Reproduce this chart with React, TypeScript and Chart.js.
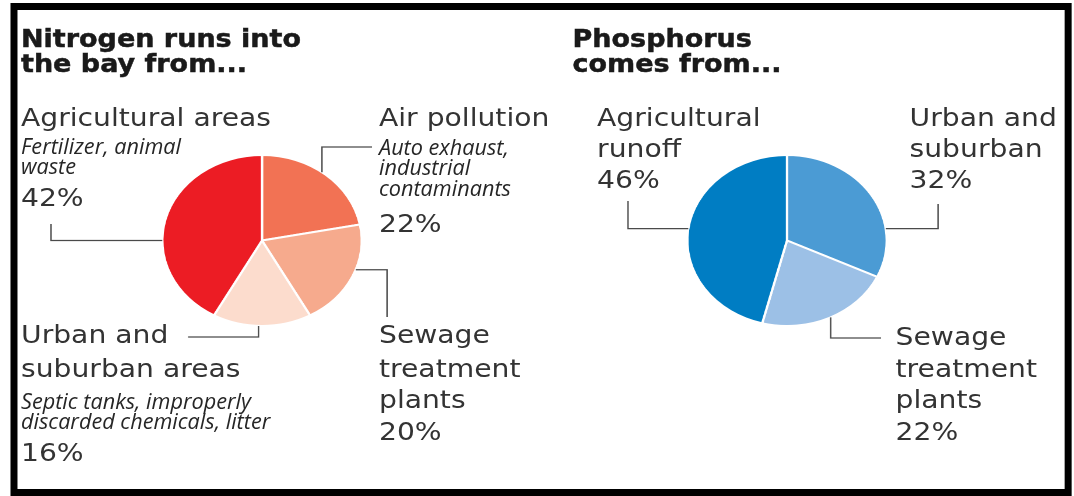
import React, { useEffect, useMemo, useRef } from "react";
import { Chart, registerables } from "chart.js";

Chart.register(...registerables);

// ---------------- data ----------------
const nitrogenTitle = ["Nitrogen runs into", "the bay from..."];
const phosphorusTitle = ["Phosphorus", "comes from..."];

// slice order: clockwise from 12 o'clock
const nitrogenNames = [["Air pollution"], ["Sewage", "treatment", "plants"], ["Urban and", "suburban areas"], ["Agricultural areas"]];
const nitrogenNotes = [["Auto exhaust,", "industrial", "contaminants"], [], ["Septic tanks, improperly", "discarded chemicals, litter"], ["Fertilizer, animal", "waste"]];
const nitrogenValues = [22, 20, 16, 42];
const nitrogenColors = ["#F27254", "#F6AA8D", "#FCDCCD", "#EC1C24"];

const phosphorusNames = [["Urban and", "suburban"], ["Sewage", "treatment", "plants"], ["Agricultural", "runoff"]];
const phosphorusNotes = [[], [], []];
const phosphorusValues = [32, 22, 46];
const phosphorusColors = ["#4B9BD4", "#9CC0E6", "#007DC3"];

// ---------------- layout (screen px) ----------------
const W = 1074;
const H = 496;
const S = 1.1661; // horizontal stretch of the whole graphic
const W0 = W / S;
const HALF = 86.5;

type Block = { x: number; names: number[]; notes: number[]; pct: number };
type Leader = { angle: number; first: "h" | "v"; x: number; y: number };

const nitrogenCenter = [262, 240.5];
const phosphorusCenter = [787, 240.5];

const nitrogenBlocks: Block[] = [
  { x: 379, names: [126], notes: [156, 176, 197], pct: 232 },
  { x: 379, names: [343, 377, 408], notes: [], pct: 440 },
  { x: 21, names: [343, 377], notes: [410, 430], pct: 461 },
  { x: 21, names: [126], notes: [155, 175], pct: 206 },
];
const phosphorusBlocks: Block[] = [
  { x: 910, names: [126, 157], notes: [], pct: 188 },
  { x: 895, names: [345, 377, 408], notes: [], pct: 440 },
  { x: 597, names: [126, 157], notes: [], pct: 188 },
];

const nitrogenLeaders: Leader[] = [
  { angle: 37, first: "v", y: 147, x: 372 },
  { angle: 110, first: "h", x: 387, y: 317 },
  { angle: 182, first: "v", y: 337, x: 188 },
  { angle: 270, first: "h", x: 51, y: 224 },
];
const phosphorusLeaders: Leader[] = [
  { angle: 82, first: "h", x: 938, y: 204 },
  { angle: 154, first: "v", y: 338, x: 881 },
  { angle: 278, first: "h", x: 628, y: 201 },
];

const FONTS = {
  title: { family: '"DejaVu Sans", sans-serif', weight: 700, style: "normal", size: 25, asc: 0.846, color: "#1a1a1a", ref: "Nitrogen runs into", refW: 280, stroke: 0.5 },
  label: { family: '"DejaVu Sans", sans-serif', weight: 400, style: "normal", size: 24, asc: 0.846, color: "#333333", ref: "Agricultural areas", refW: 250, stroke: 0 },
  note: { family: '"Open Sans", sans-serif', weight: 400, style: "italic", size: 21, asc: 0.888, color: "#262626", ref: "Fertilizer, animal", refW: 160, stroke: 0 },
};
type FontKey = keyof typeof FONTS;

function useFactors() {
  return useMemo(() => {
    const c = document.createElement("canvas").getContext("2d")!;
    const out: Record<string, number> = {};
    (Object.keys(FONTS) as FontKey[]).forEach((k) => {
      const f = FONTS[k];
      c.font = `${f.style} ${f.weight} ${f.size}px ${f.family}`;
      const w = c.measureText(f.ref).width || 1;
      out[k] = f.refW / S / w;
    });
    return out;
  }, []);
}

function TextLine({ text, x, base, kind, k }: { text: string; x: number; base: number; kind: FontKey; k: number }) {
  const f = FONTS[kind];
  return (
    <div
      style={{
        position: "absolute",
        left: x / S,
        top: base - f.asc * f.size,
        fontFamily: f.family,
        fontWeight: f.weight as any,
        fontStyle: f.style as any,
        fontSize: f.size,
        lineHeight: `${f.size}px`,
        color: f.color,
        whiteSpace: "nowrap",
        transform: `scaleX(${k})`,
        transformOrigin: "0 0",
        WebkitTextStroke: f.stroke ? `${f.stroke}px ${f.color}` : undefined,
      }}
    >
      {text}
    </div>
  );
}

function makeLeaderPlugin(leaders: Leader[]) {
  return {
    id: "leaders",
    afterDatasetsDraw(chart: any) {
      const meta = chart.getDatasetMeta(0);
      const ctx = chart.ctx as CanvasRenderingContext2D;
      ctx.save();
      ctx.strokeStyle = "#4a4a4a";
      ctx.lineWidth = 1.2;
      leaders.forEach((sp, i) => {
        const arc = meta.data[i];
        if (!arc) return;
        const { x, y, outerRadius } = arc.getProps(["x", "y", "outerRadius"], true);
        const a = ((sp.angle - 90) * Math.PI) / 180;
        const px = x + outerRadius * Math.cos(a);
        const py = y + outerRadius * Math.sin(a);
        ctx.beginPath();
        ctx.moveTo(px, py);
        if (sp.first === "h") {
          ctx.lineTo(sp.x / S, py);
          ctx.lineTo(sp.x / S, sp.y);
        } else {
          ctx.lineTo(px, sp.y);
          ctx.lineTo(sp.x / S, sp.y);
        }
        ctx.stroke();
      });
      ctx.restore();
    },
  };
}

function PieChart({ values, colors, labels, center, leaders }: { values: number[]; colors: string[]; labels: string[]; center: number[]; leaders: Leader[] }) {
  const ref = useRef<HTMLCanvasElement>(null);
  useEffect(() => {
    const cx = center[0] / S;
    const cy = center[1];
    const chart = new Chart(ref.current!, {
      type: "pie",
      data: {
        labels,
        datasets: [{ data: values, backgroundColor: colors, borderColor: "#ffffff", borderWidth: 2 }],
      },
      options: {
        responsive: true,
        maintainAspectRatio: false,
        animation: false,
        devicePixelRatio: 2,
        events: [],
        layout: { padding: { left: cx - HALF, right: W0 - (cx + HALF), top: cy - HALF, bottom: H - (cy + HALF) } },
        plugins: { legend: { display: false }, tooltip: { enabled: false } },
      },
      plugins: [makeLeaderPlugin(leaders) as any],
    });
    return () => chart.destroy();
  }, []);
  return (
    <div style={{ position: "absolute", left: 0, top: 0, width: W0, height: H }}>
      <canvas ref={ref} />
    </div>
  );
}

function Labels({ names, notes, values, blocks, k }: { names: string[][]; notes: string[][]; values: number[]; blocks: Block[]; k: Record<string, number> }) {
  const out: React.ReactNode[] = [];
  blocks.forEach((b, i) => {
    names[i].forEach((t, j) => out.push(<TextLine key={`n${i}-${j}`} text={t} x={b.x} base={b.names[j]} kind="label" k={k.label} />));
    notes[i].forEach((t, j) => out.push(<TextLine key={`o${i}-${j}`} text={t} x={b.x} base={b.notes[j]} kind="note" k={k.note} />));
    out.push(<TextLine key={`p${i}`} text={`${values[i]}%`} x={b.x} base={b.pct} kind="label" k={k.label} />);
  });
  return <>{out}</>;
}

export default function App() {
  const k = useFactors();
  return (
    <div style={{ position: "fixed", left: 0, top: 0, width: W, height: H, overflow: "hidden", background: "#ffffff" }}>
      <div style={{ position: "absolute", left: 0, top: 0, width: W0, height: H, transform: `scaleX(${S})`, transformOrigin: "0 0" }}>
        <div
          style={{
            position: "absolute",
            left: 11 / S,
            top: 3,
            width: (1072 - 11) / S,
            height: H - 3,
            boxSizing: "border-box",
            borderStyle: "solid",
            borderColor: "#000",
            borderTopWidth: 7,
            borderBottomWidth: 7,
            borderLeftWidth: 7 / S,
            borderRightWidth: 8 / S,
          }}
        />
        <PieChart values={nitrogenValues} colors={nitrogenColors} labels={nitrogenNames.map((n) => n.join(" "))} center={nitrogenCenter} leaders={nitrogenLeaders} />
        <PieChart values={phosphorusValues} colors={phosphorusColors} labels={phosphorusNames.map((n) => n.join(" "))} center={phosphorusCenter} leaders={phosphorusLeaders} />
        <TextLine text={nitrogenTitle[0]} x={21} base={47} kind="title" k={k.title} />
        <TextLine text={nitrogenTitle[1]} x={21} base={72} kind="title" k={k.title} />
        <TextLine text={phosphorusTitle[0]} x={572} base={47} kind="title" k={k.title} />
        <TextLine text={phosphorusTitle[1]} x={572} base={72} kind="title" k={k.title} />
        <Labels names={nitrogenNames} notes={nitrogenNotes} values={nitrogenValues} blocks={nitrogenBlocks} k={k} />
        <Labels names={phosphorusNames} notes={phosphorusNotes} values={phosphorusValues} blocks={phosphorusBlocks} k={k} />
      </div>
    </div>
  );
}
